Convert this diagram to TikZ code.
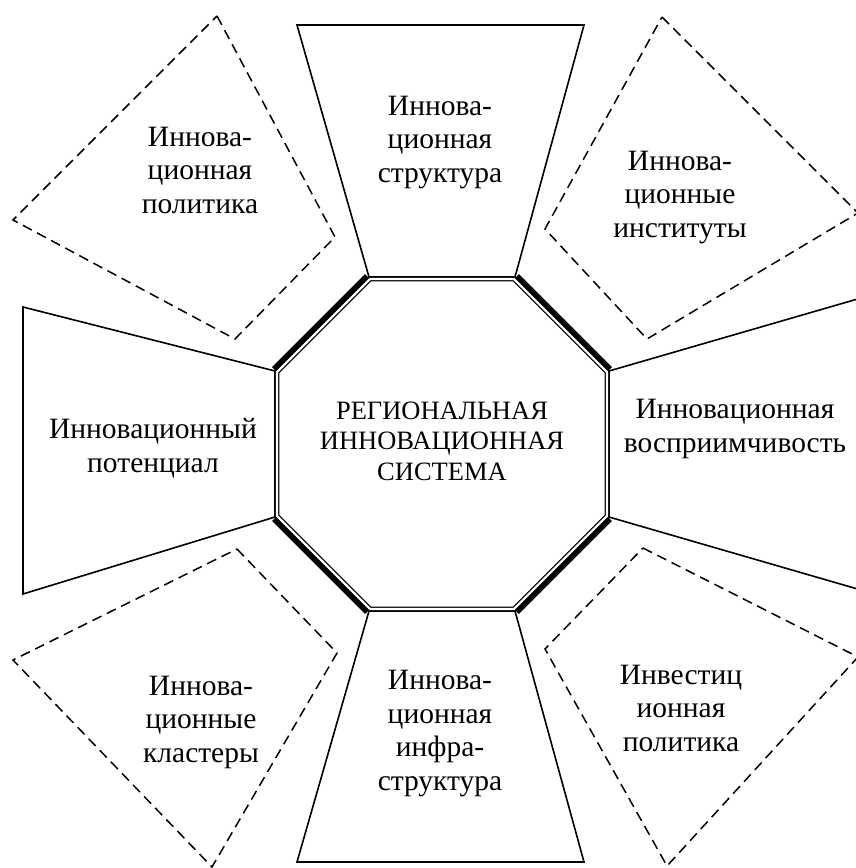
\documentclass[tikz,border=0pt]{standalone}
\usepackage{fontspec}
\setmainfont{Liberation Serif}
\usetikzlibrary{calc}

\tikzset{
  sidebox/.style={draw=black, line width=1.6pt, line join=miter},
  dashbox/.style={draw=black, line width=1.5pt, dash pattern=on 10pt off 6pt, line join=miter},
  core/.style={draw=black, line width=1.3pt, double=white, double distance=2.2pt, line join=miter},
  heavyedge/.style={draw=black, line width=5.5pt, line cap=butt},
  lbl/.style={align=center, anchor=base, inner sep=0pt, font=\fontsize{29.5}{33.5}\selectfont},
  corelbl/.style={align=center, anchor=base, inner sep=0pt, font=\fontsize{26.5}{30.5}\selectfont}
}

\begin{document}
\begin{tikzpicture}[x=1pt, y=-1pt]
\useasboundingbox (0,0) rectangle (856,868);
\clip (0,0) rectangle (856,868);

% octagon corners (midline of the double rule)
\coordinate (o1) at (370,279);
\coordinate (o2) at (514,279);
\coordinate (o3) at (607,372);
\coordinate (o4) at (607,516);
\coordinate (o5) at (514,609);
\coordinate (o6) at (370,609);
\coordinate (o7) at (277,516);
\coordinate (o8) at (277,372);

% outer corners where the side boxes meet the octagon
\coordinate (c1) at (369,277);
\coordinate (c2) at (515,277);
\coordinate (c3) at (609,371);
\coordinate (c4) at (609,517);
\coordinate (c5) at (515,611);
\coordinate (c6) at (369,611);
\coordinate (c7) at (275,517);
\coordinate (c8) at (275,371);

% four trapezoids
\draw[sidebox] (297,25) coordinate (t1) -- (584,25) coordinate (t2) -- (c2) -- (c1) -- cycle;
\draw[sidebox] (297,862) coordinate (b1) -- (584,862) coordinate (b2) -- (c5) -- (c6) -- cycle;
\draw[sidebox] (23,307) coordinate (l1) -- (c8) -- (c7) -- (23,594) coordinate (l2) -- cycle;
\draw[sidebox] (861,298) coordinate (r1) -- (c3) -- (c4) -- (861,590) coordinate (r2) -- cycle;

% four dashed quadrilaterals
\draw[dashbox] (217,16) coordinate (q1a) -- (335,237) coordinate (q1b) -- (235,339) coordinate (q1c) -- (13,220) coordinate (q1d) -- cycle;
\draw[dashbox] (662,17) coordinate (q2a) -- (858,213) coordinate (q2b) -- (647,339) coordinate (q2c) -- (545,229) coordinate (q2d) -- cycle;
\draw[dashbox] (237,549) coordinate (q3a) -- (337,653) coordinate (q3b) -- (212,867) coordinate (q3c) -- (13,660) coordinate (q3d) -- cycle;
\draw[dashbox] (643,548) coordinate (q4a) -- (858,657) coordinate (q4b) -- (667,866) coordinate (q4c) -- (545,649) coordinate (q4d) -- cycle;

% central octagon with double rule
\draw[core] (o1) -- (o2) -- (o3) -- (o4) -- (o5) -- (o6) -- (o7) -- (o8) -- cycle;

% heavy rules on the diagonal sides
\draw[heavyedge] ($(o1)+(-3,-3)$) -- ($(o8)+(-3,-3)$);
\draw[heavyedge] ($(o2)+(3,-3)$) -- ($(o3)+(3,-3)$);
\draw[heavyedge] ($(o4)+(3,3)$) -- ($(o5)+(3,3)$);
\draw[heavyedge] ($(o6)+(-3,3)$) -- ($(o7)+(-3,3)$);

% labels (anchored at the baseline of the last line)
\node[corelbl] (core) at (442,480) {РЕГИОНАЛЬНАЯ\\ИННОВАЦИОННАЯ\\СИСТЕМА};
\node[lbl] (struct) at (440,182) {Иннова-\\ционная\\структура};
\node[lbl] (infra) at (440,790) {Иннова-\\ционная\\инфра-\\структура};
\node[lbl] (potent) at (153,472) {Инновационный\\потенциал};
\node[lbl] (recept) at (735,452) {Инновационная\\восприимчивость};
\node[lbl] (policy) at (200,213) {Иннова-\\ционная\\политика};
\node[lbl] (inst) at (680,237) {Иннова-\\ционные\\институты};
\node[lbl] (clust) at (201,762) {Иннова-\\ционные\\кластеры};
\node[lbl] (invest) at (681,751) {Инвестиц\\ионная\\политика};
\end{tikzpicture}
\end{document}
